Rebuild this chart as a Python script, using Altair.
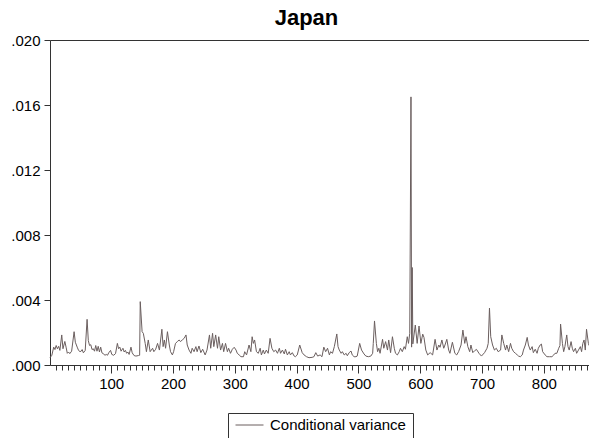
import altair as alt
import pandas as pd

# Observation index and conditional variance (vertices of the series)
obs = [
    1, 4, 7, 9, 11, 13, 15, 17, 20, 22, 25, 27, 29, 31, 33, 36, 40, 42, 45, 47,
    50, 53, 55, 58, 61, 63, 65, 67, 69, 71, 73, 75, 77, 79, 81, 83, 85, 87, 90, 92,
    94, 96, 99, 101, 104, 107, 110, 112, 114, 116, 119, 121, 123, 125, 127, 129, 132, 134, 137, 140,
    144, 146, 147,
    150, 152, 155, 157, 160, 163, 167, 169, 172, 175, 178, 182, 184, 186, 188, 191, 194, 196, 199, 201,
    204, 207, 210, 212, 215, 218, 221, 223, 226, 229, 231, 234, 237, 239, 242, 245, 248, 252, 255, 259,
    261, 264, 266, 269, 272, 274, 277, 280, 282, 285, 288, 290, 293, 296,
    299, 302, 304, 307, 310, 314, 316, 319, 323, 326, 328, 330, 332, 335, 338, 341, 343, 346, 348, 351,
    354, 357, 360, 363, 366, 369, 372, 374, 377, 380, 382, 385, 388, 390, 393, 396, 398, 401, 405, 409,
    412, 416, 420, 425, 428, 431, 434, 438, 441,
    444, 447, 450, 453, 455, 458, 461, 465, 467, 469, 472, 474, 477, 480, 482, 485, 488, 490, 493, 496,
    498, 502, 505, 509, 512, 516, 520, 523, 524, 526, 529, 531, 533, 535, 539, 541, 544, 547, 549, 552,
    555, 558, 560, 563, 566, 568, 571, 574, 576, 579, 581, 583,
    585, 586, 587, 588,
    592, 595, 598, 601, 604, 606, 609, 612, 616, 620, 624, 627, 630, 632, 635, 638, 640, 643, 646, 648,
    652, 656, 659, 662, 666, 669, 672, 674, 677, 680, 682, 685, 688, 691, 695, 699, 704, 708, 710, 712,
    714, 717, 720, 723, 726,
    730, 732, 735, 738, 740, 743, 746, 748, 751, 754, 757, 759, 762, 765, 767, 770, 773, 775, 778, 781,
    783, 786, 789, 791, 794, 796, 798, 802, 805, 809, 813, 816, 818, 821, 824, 826, 827, 830, 832, 834,
    837, 839, 841, 844, 846, 848, 851, 853, 856, 859, 861, 863, 865, 867, 869, 872, 873,
]

cond_var = [
    0.00045, 0.00060, 0.00110, 0.00095, 0.00120, 0.00100, 0.00115, 0.00090, 0.00185, 0.00100,
    0.00145, 0.00110, 0.00072, 0.00080, 0.00070, 0.00085, 0.00205, 0.00140, 0.00110, 0.00092,
    0.00080, 0.00095, 0.00075, 0.00090, 0.00281, 0.00150, 0.00120, 0.00125, 0.00095, 0.00100,
    0.00085, 0.00120, 0.00085, 0.00115, 0.00080, 0.00110, 0.00075, 0.00070, 0.00060, 0.00065,
    0.00060, 0.00075, 0.00090, 0.00065, 0.00060, 0.00070, 0.00133, 0.00100, 0.00110, 0.00085,
    0.00103, 0.00080, 0.00090, 0.00072, 0.00080, 0.00065, 0.00110, 0.00075, 0.00058, 0.00055,
    0.00058, 0.00060, 0.00390,
    0.00205, 0.00195, 0.00133, 0.00082, 0.00154, 0.00082, 0.00103, 0.00082, 0.00097, 0.00133,
    0.00092, 0.00220, 0.00113, 0.00154, 0.00103, 0.00205, 0.00123, 0.00082, 0.00062, 0.00082,
    0.00133, 0.00144, 0.00154, 0.00144, 0.00154, 0.00164, 0.00185, 0.00123, 0.00092, 0.00072,
    0.00103, 0.00082, 0.00113, 0.00082, 0.00117, 0.00076, 0.00097, 0.00062, 0.00092, 0.00185,
    0.00103, 0.00195, 0.00113, 0.00185, 0.00103, 0.00174, 0.00092, 0.00133, 0.00082, 0.00133,
    0.00082, 0.00103, 0.00072, 0.00097,
    0.00109, 0.00092, 0.00072, 0.00062, 0.00051, 0.00051, 0.00082, 0.00062, 0.00123, 0.00082,
    0.00174, 0.00133, 0.00154, 0.00082, 0.00072, 0.00103, 0.00062, 0.00092, 0.00068, 0.00092,
    0.00072, 0.00164, 0.00103, 0.00082, 0.00092, 0.00072, 0.00103, 0.00072, 0.00092, 0.00068,
    0.00097, 0.00062, 0.00082, 0.00062, 0.00076, 0.00055, 0.00051, 0.00062, 0.00123, 0.00076,
    0.00062, 0.00051, 0.00045, 0.00047, 0.00051, 0.00076, 0.00055, 0.00062, 0.00051,
    0.00110, 0.00082, 0.00103, 0.00062, 0.00082, 0.00072, 0.00113, 0.00191, 0.00113, 0.00092,
    0.00072, 0.00082, 0.00062, 0.00072, 0.00057, 0.00076, 0.00086, 0.00062, 0.00051, 0.00051,
    0.00055, 0.00133, 0.00092, 0.00068, 0.00055, 0.00051, 0.00055, 0.00072, 0.00133, 0.00271,
    0.00133, 0.00082, 0.00103, 0.00072, 0.00158, 0.00103, 0.00144, 0.00092, 0.00154, 0.00076,
    0.00174, 0.00103, 0.00072, 0.00062, 0.00082, 0.00103, 0.00082, 0.00113, 0.00097, 0.00174,
    0.00133, 0.00195,
    0.01650, 0.00110, 0.00600, 0.00130,
    0.00246, 0.00133, 0.00240, 0.00133, 0.00190, 0.00170, 0.00092, 0.00062, 0.00076, 0.00062,
    0.00158, 0.00092, 0.00123, 0.00109, 0.00154, 0.00103, 0.00123, 0.00158, 0.00092, 0.00072,
    0.00140, 0.00072, 0.00062, 0.00082, 0.00123, 0.00215, 0.00133, 0.00174, 0.00113, 0.00082,
    0.00123, 0.00076, 0.00088, 0.00096, 0.00072, 0.00055, 0.00076, 0.00103, 0.00133, 0.00350,
    0.00174, 0.00123, 0.00092, 0.00103, 0.00082,
    0.00092, 0.00185, 0.00133, 0.00092, 0.00123, 0.00082, 0.00133, 0.00103, 0.00082, 0.00072,
    0.00062, 0.00055, 0.00051, 0.00062, 0.00092, 0.00123, 0.00170, 0.00123, 0.00092, 0.00113,
    0.00076, 0.00097, 0.00072, 0.00103, 0.00123, 0.00129, 0.00082, 0.00062, 0.00051, 0.00051,
    0.00051, 0.00062, 0.00072, 0.00072, 0.00103, 0.00120, 0.00252, 0.00133, 0.00082, 0.00113,
    0.00185, 0.00113, 0.00092, 0.00144, 0.00103, 0.00082, 0.00103, 0.00072, 0.00092, 0.00113,
    0.00082, 0.00133, 0.00154, 0.00092, 0.00220, 0.00133, 0.00120,
]

series_name = "Conditional variance"
y_ticks = [0.0, 0.004, 0.008, 0.012, 0.016, 0.020]
x_major = [100, 200, 300, 400, 500, 600, 700, 800]
x_minor = list(range(10, 871, 10))

df = pd.DataFrame({"obs": obs, "variance": cond_var, "series": series_name})

FONT = "Liberation Sans"
LINE_COLOR = "#6b5f5f"
AXIS_COLOR = "#333333"

x_scale = alt.Scale(domain=[1, 873], nice=False, zero=False)
y_scale = alt.Scale(domain=[0, 0.02], nice=False, zero=True)

y_axis = alt.Axis(
    values=y_ticks,
    labelExpr="replace(format(datum.value, '.3f'), '0.', '.')",
    title=None,
    grid=False,
    tickSize=6,
    labelPadding=4,
    labelFont=FONT,
    labelFontSize=15,
    labelColor="#000000",
    domainColor=AXIS_COLOR,
    tickColor=AXIS_COLOR,
)

line = alt.Chart(df).mark_line(strokeWidth=1).encode(
    x=alt.X(
        "obs:Q",
        scale=x_scale,
        axis=alt.Axis(
            values=x_major,
            format="d",
            title=None,
            grid=False,
            orient="bottom",
            tickSize=8,
            labelPadding=3,
            labelFont=FONT,
            labelFontSize=15,
            labelColor="#000000",
            domainColor=AXIS_COLOR,
            tickColor=AXIS_COLOR,
        ),
    ),
    y=alt.Y("variance:Q", scale=y_scale, axis=y_axis),
    color=alt.Color(
        "series:N",
        scale=alt.Scale(range=[LINE_COLOR]),
        legend=alt.Legend(
            title=None,
            orient="none",
            legendX=178,
            legendY=373,
            strokeColor=AXIS_COLOR,
            fillColor="#ffffff",
            padding=7,
            symbolType="stroke",
            symbolSize=784,
            symbolStrokeWidth=1,
            clipHeight=10,
            labelFont=FONT,
            labelFontSize=15,
            labelColor="#000000",
            labelOffset=6,
        ),
    ),
)

# Minor ticks every 10 observations along the bottom axis
minor = alt.Chart(df).mark_rule(opacity=0).encode(
    x=alt.X(
        "obs:Q",
        scale=x_scale,
        axis=alt.Axis(
            values=x_minor,
            labels=False,
            domain=False,
            grid=False,
            title=None,
            orient="bottom",
            tickSize=5,
            tickColor=AXIS_COLOR,
        ),
    ),
)

# Upper frame line drawn as a bare top axis
top_frame = alt.Chart(df).mark_rule(opacity=0).encode(
    x=alt.X(
        "obs:Q",
        scale=x_scale,
        axis=alt.Axis(
            orient="top",
            labels=False,
            ticks=False,
            grid=False,
            title=None,
            domain=True,
            domainColor=AXIS_COLOR,
        ),
    ),
)

chart = (
    alt.layer(line, minor, top_frame)
    .resolve_axis(x="independent")
    .properties(
        width=539,
        height=325,
        padding={"left": 50, "top": 40, "right": 0, "bottom": 73},
        autosize=alt.AutoSizeParams(type="none"),
        title=alt.Title(
            "Japan",
            font=FONT,
            fontSize=22,
            fontWeight="bold",
            color="#000000",
            anchor="middle",
            dx=-13,
            dy=29,
            baseline="bottom",
            offset=10,
        ),
    )
    .configure_view(stroke=None)
    .configure(background="#ffffff")
)

chart.save("out.html", embed_options={"renderer": "svg", "actions": False})
